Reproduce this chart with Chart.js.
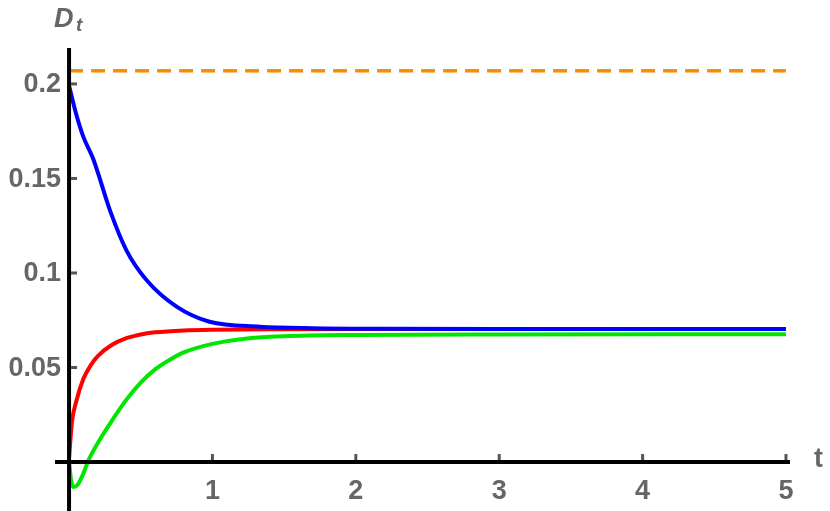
<!DOCTYPE html>
<html>
<head>
<meta charset="utf-8">
<script src="https://cdn.jsdelivr.net/npm/chart.js@4"></script>
<style>
  html, body { margin: 0; padding: 0; background: #fff; }
  #wrap { width: 830px; height: 511px; }
</style>
</head>
<body>
<div id="wrap"><canvas id="chart"></canvas></div>
<script>
// values
const blueT = [0, 0.05, 0.1, 0.17, 0.286, 0.4, 0.54, 0.75, 0.98, 1.33, 1.7, 2.2, 3, 5];
const blueD = [0.199, 0.184, 0.172, 0.160, 0.133, 0.112, 0.0963, 0.0822, 0.0742, 0.0716, 0.0708, 0.0705, 0.0704, 0.0704];
const redT = [0, 0.02, 0.05, 0.1, 0.15, 0.2, 0.3, 0.4, 0.5, 0.6, 0.8, 1.0, 1.5, 2, 3, 5];
const redD = [0.002, 0.021, 0.032, 0.044, 0.051, 0.056, 0.062, 0.0655, 0.0675, 0.0686, 0.0696, 0.0700, 0.0703, 0.0704, 0.0704, 0.0704];
const greenT = [0, 0.015, 0.03, 0.06, 0.1, 0.13, 0.2, 0.3, 0.4, 0.5, 0.6, 0.7, 0.8, 1.0, 1.2, 1.5, 2, 3, 5];
const greenD = [0.0, -0.010, -0.0132, -0.012, -0.006, 0.0, 0.010, 0.022, 0.033, 0.042, 0.049, 0.054, 0.058, 0.0625, 0.065, 0.0665, 0.0672, 0.0675, 0.0676];
const limitD = 0.207;
const xTicks = [1, 2, 3, 4, 5];
const yTicks = [0.05, 0.1, 0.15, 0.2];
const yLabels = ["0.05", "0.1", "0.15", "0.2"];

function pts(ts, ds) { return ts.map((t, i) => ({ x: t, y: ds[i] })); }

// axes through the origin, Mathematica style
const axesPlugin = {
  id: "axesPlugin",
  afterDatasetsDraw(chart) {
    const { ctx, scales: { x, y }, chartArea } = chart;
    const x0 = x.getPixelForValue(0), y0 = y.getPixelForValue(0);
    ctx.save();
    ctx.strokeStyle = "#000";
    ctx.lineWidth = 4;
    ctx.beginPath();
    ctx.moveTo(x0, chartArea.top); ctx.lineTo(x0, chartArea.bottom);
    ctx.moveTo(chartArea.left, y0); ctx.lineTo(chartArea.right, y0);
    ctx.stroke();
    ctx.strokeStyle = "#555";
    ctx.lineWidth = 3;
    ctx.fillStyle = "#666";
    ctx.font = "bold 27px 'Liberation Sans', Arial, sans-serif";
    ctx.textAlign = "center"; ctx.textBaseline = "top";
    xTicks.forEach(v => {
      const px = x.getPixelForValue(v);
      ctx.beginPath(); ctx.moveTo(px, y0 - 8); ctx.lineTo(px, y0 - 2); ctx.stroke();
      ctx.fillText(String(v), px, y0 + 16);
    });
    ctx.textAlign = "right"; ctx.textBaseline = "middle";
    yTicks.forEach((v, i) => {
      const py = y.getPixelForValue(v);
      ctx.beginPath(); ctx.moveTo(x0 + 2, py); ctx.lineTo(x0 + 8, py); ctx.stroke();
      ctx.fillText(yLabels[i], x0 - 8, py + 1);
    });
    ctx.textAlign = "left";
    ctx.fillText("t", 814, y0 - 2);
    ctx.font = "italic bold 27px 'Liberation Sans', Arial, sans-serif";
    ctx.textBaseline = "alphabetic";
    ctx.fillText("D", 54, 27);
    ctx.font = "italic bold 19px 'Liberation Sans', Arial, sans-serif";
    ctx.fillText("t", 76, 31);
    ctx.restore();
  }
};

const line = (data, color, extra) => Object.assign({
  data, borderColor: color, borderWidth: 4, pointRadius: 0,
  tension: 0.4, cubicInterpolationMode: "monotone", fill: false
}, extra || {});

new Chart(document.getElementById("chart"), {
  type: "line",
  data: {
    datasets: [
      line([{ x: 0, y: limitD }, { x: 5, y: limitD }], "#ff8c00", { borderWidth: 3.5, borderDash: [14, 8] }),
      line(pts(greenT, greenD), "#00e600"),
      line(pts(blueT, blueD), "#0000ff"),
      line(pts(redT, redD), "#ff0000")
    ]
  },
  options: {
    responsive: true,
    maintainAspectRatio: false,
    animation: false,
    layout: { padding: { left: 55, right: 40, top: 48, bottom: 0 } },
    plugins: { legend: { display: false }, tooltip: { enabled: false } },
    scales: {
      x: { type: "linear", min: -0.098, max: 5.028, display: false },
      y: { type: "linear", min: -0.0259, max: 0.219, display: false }
    }
  },
  plugins: [axesPlugin]
});
</script>
</body>
</html>
